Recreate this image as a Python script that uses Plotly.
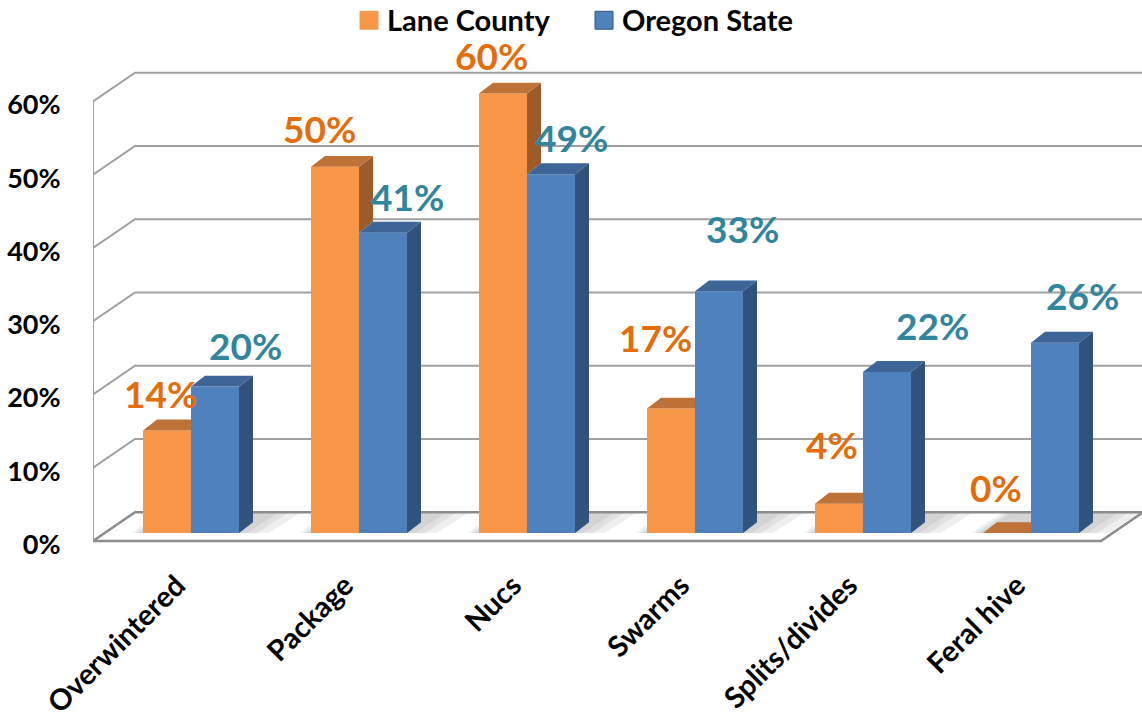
import plotly.graph_objects as go

# ---- data -------------------------------------------------------------
categories = ["Overwintered", "Package", "Nucs", "Swarms", "Splits/divides", "Feral hive"]
lane_county = [14, 50, 60, 17, 4, 0]
oregon_state = [20, 41, 49, 33, 22, 26]
y_ticks = [0, 10, 20, 30, 40, 50, 60]
series_names = ["Lane County", "Oregon State"]

# ---- page / plot-area geometry ------------------------------------------
W, H = 1142, 719
M_L, M_R, M_T, M_B = 93, 0, 60, 169
PX_PER_CAT = 168.0          # horizontal pixels per category slot
PX_PER_PCT = 7.37           # vertical pixels per percentage point
BASE_PX = 14                # bar base sits this far above the plot bottom

X_LO = -0.5
X_HI = X_LO + (W - M_L - M_R) / PX_PER_CAT
Y_LO = -BASE_PX / PX_PER_PCT
Y_HI = Y_LO + (H - M_T - M_B) / PX_PER_PCT

# oblique 3-D projection offsets (axis units)
FRONT = -8 / PX_PER_PCT               # front edge of floor/walls vs. bar base
WALL_DX = 42 / PX_PER_CAT
WALL_DY = 29 / PX_PER_PCT
BAR_W = 48 / PX_PER_CAT
PAIR_SHIFT = 14 / PX_PER_CAT          # bar pair is shifted back into the box
BAR_DX = 14 / PX_PER_CAT
BAR_DY = 11 / PX_PER_PCT
TICK_LABEL_DROP = 3.5 / PX_PER_PCT    # y labels sit slightly below their gridline

# ---- colours / fonts ------------------------------------------------------
FONT = "Lato"
ORANGE = dict(front="#F79646", top="#BF7237", side="#9D5B29", label="#E46C0A")
BLUE = dict(front="#4F81BD", top="#3D6597", side="#30527D", label="#31859C")
GRID = "#A0A0A0"

# data-label placement (pixels right / up from the top-front centre of each bar)
ORANGE_LABEL_SHIFT = [(-7, 37), (-16, 38), (-12, 38), (-16, 71), (-7, 59), (-11, 46)]
BLUE_LABEL_SHIFT = [(30, 41), (24, 36), (20, 37), (23, 63), (45, 46), (27, 47)]

idx = list(range(len(categories)))
orange_x0 = [i + PAIR_SHIFT - BAR_W for i in idx]
orange_x1 = [i + PAIR_SHIFT for i in idx]
blue_x0 = orange_x1
blue_x1 = [i + PAIR_SHIFT + BAR_W for i in idx]


def poly_trace(polys, color):
    xs, ys = [], []
    for p in polys:
        for (px, py) in p:
            xs.append(px)
            ys.append(py)
        xs.append(p[0][0])
        ys.append(p[0][1])
        xs.append(None)
        ys.append(None)
    return go.Scatter(x=xs, y=ys, mode="none", fill="toself", fillcolor=color,
                      hoverinfo="skip", showlegend=False)


fig = go.Figure()

# front faces of the bars
fig.add_trace(go.Bar(x=[(a + b) / 2 for a, b in zip(orange_x0, orange_x1)], y=lane_county,
                     width=BAR_W, name=series_names[0], marker=dict(color=ORANGE["front"], line_width=0),
                     showlegend=False))
fig.add_trace(go.Bar(x=[(a + b) / 2 for a, b in zip(blue_x0, blue_x1)], y=oregon_state,
                     width=BAR_W, name=series_names[1], marker=dict(color=BLUE["front"], line_width=0),
                     showlegend=False))

# orange side & top faces, trimmed where the blue bar stands in front of them
o_side, o_top = [], []
for x0, x1, vo, vb in zip(orange_x0, orange_x1, lane_county, oregon_state):
    if vo > vb:
        o_side.append([(x1, vb), (x1, vo), (x1 + BAR_DX, vo + BAR_DY), (x1 + BAR_DX, vb + BAR_DY)])
        o_top.append([(x0, vo), (x1, vo), (x1 + BAR_DX, vo + BAR_DY), (x0 + BAR_DX, vo + BAR_DY)])
    else:
        o_top.append([(x0, vo), (x1, vo), (x1, vo + BAR_DY), (x0 + BAR_DX, vo + BAR_DY)])
fig.add_trace(poly_trace(o_side, ORANGE["side"]))
fig.add_trace(poly_trace(o_top, ORANGE["top"]))

# blue side & top faces
b_side, b_top = [], []
for x0, x1, vb in zip(blue_x0, blue_x1, oregon_state):
    b_side.append([(x1, 0), (x1, vb), (x1 + BAR_DX, vb + BAR_DY), (x1 + BAR_DX, BAR_DY)])
    b_top.append([(x0, vb), (x1, vb), (x1 + BAR_DX, vb + BAR_DY), (x0 + BAR_DX, vb + BAR_DY)])
fig.add_trace(poly_trace(b_side, BLUE["side"]))
fig.add_trace(poly_trace(b_top, BLUE["top"]))

# ---- box: floor, walls, gridlines -------------------------------------------
shapes = []
fx0, fx1 = X_LO, X_LO + len(categories)
back = FRONT + WALL_DY
shapes.append(dict(type="path", xref="x", yref="y", layer="below",
                   path=(f"M{fx0},{FRONT} L{fx1},{FRONT} L{fx1 + WALL_DX},{back} "
                         f"L{fx0 + WALL_DX},{back} Z"),
                   fillcolor="white", line=dict(color="#8C8C8C", width=2.5)))

# soft shadows on the floor under each bar pair (stacked translucent layers)
depth_dx = (back - 0) / WALL_DY * WALL_DX
for x0, x1 in zip(orange_x0, blue_x1):
    for spread in (30, 18, 8):
        s = spread / PX_PER_CAT
        shapes.append(dict(type="path", xref="x", yref="y", layer="below",
                           path=(f"M{x0 - s * 0.4},{0} L{x1 + s},{0} "
                                 f"L{x1 + s + depth_dx},{back - 0.15} L{x0 - s * 0.4 + depth_dx},{back - 0.15} Z"),
                           fillcolor="rgba(110,110,110,0.11)", line=dict(width=0)))

for g in y_ticks[1:]:
    yf = g + FRONT
    shapes.append(dict(type="path", xref="x", yref="y", layer="below",
                       path=(f"M{fx0},{yf} L{fx0 + WALL_DX},{yf + WALL_DY} "
                             f"L{fx1 + WALL_DX},{yf + WALL_DY}"),
                       line=dict(color=GRID, width=2)))
shapes.append(dict(type="line", xref="x", yref="y", layer="below",
                   x0=fx0, x1=fx0, y0=FRONT, y1=y_ticks[-1] + FRONT,
                   line=dict(color=GRID, width=2)))

# ---- legend drawn at the top ------------------------------------------------
def px_x(p):
    return (p - M_L) / (W - M_L - M_R)


def px_y(p):
    return (H - M_B - p) / (H - M_T - M_B)


annotations = []
legend_items = [(360, ORANGE, series_names[0]), (595, BLUE, series_names[1])]
for left, col, name in legend_items:
    shapes.append(dict(type="rect", xref="paper", yref="paper",
                       x0=px_x(left), x1=px_x(left + 18), y0=px_y(29), y1=px_y(11),
                       fillcolor=col["front"],
                       line=dict(color=col["side"] if col is BLUE else col["front"], width=1)))
    annotations.append(dict(xref="paper", yref="paper", x=px_x(left + 25), y=px_y(19),
                            xanchor="left", yanchor="middle", showarrow=False, text=name,
                            font=dict(family=FONT, size=29, color="black", weight="bold")))

# ---- data labels --------------------------------------------------------------
for x0, x1, v, (dx, dy) in zip(orange_x0, orange_x1, lane_county, ORANGE_LABEL_SHIFT):
    annotations.append(dict(x=(x0 + x1) / 2, y=v, xref="x", yref="y", text=f"{v}%",
                            showarrow=False, xanchor="center", yanchor="middle",
                            xshift=dx, yshift=dy,
                            font=dict(family=FONT, size=37, color=ORANGE["label"], weight="bold")))
for x0, x1, v, (dx, dy) in zip(blue_x0, blue_x1, oregon_state, BLUE_LABEL_SHIFT):
    annotations.append(dict(x=(x0 + x1) / 2, y=v, xref="x", yref="y", text=f"{v}%",
                            showarrow=False, xanchor="center", yanchor="middle",
                            xshift=dx, yshift=dy,
                            font=dict(family=FONT, size=37, color=BLUE["label"], weight="bold")))

fig.update_layout(
    width=W, height=H, autosize=False,
    margin=dict(l=M_L, r=M_R, t=M_T, b=M_B, pad=0),
    paper_bgcolor="white", plot_bgcolor="rgba(0,0,0,0)",
    barmode="overlay", showlegend=False,
    shapes=shapes, annotations=annotations,
    font=dict(family=FONT, color="black"),
)
fig.update_xaxes(range=[X_LO, X_HI], tickvals=idx, ticktext=categories, tickangle=-45,
                 ticks="outside", ticklen=9, tickcolor="rgba(0,0,0,0)",
                 showgrid=False, zeroline=False, showline=False,
                 tickfont=dict(family=FONT, size=29, color="black", weight="bold"))
fig.update_yaxes(range=[Y_LO, Y_HI], tickvals=[g + FRONT - TICK_LABEL_DROP for g in y_ticks],
                 ticktext=[f"{g}%" for g in y_ticks],
                 ticks="outside", ticklen=26, tickcolor="rgba(0,0,0,0)",
                 showgrid=False, zeroline=False, showline=False,
                 tickfont=dict(family=FONT, size=27, color="black", weight="bold"))

fig.write_html("out.html")
